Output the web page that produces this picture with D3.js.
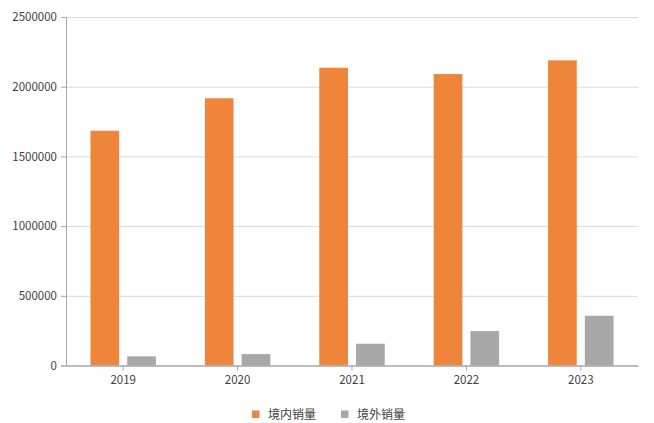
<!DOCTYPE html>
<html>
<head>
<meta charset="utf-8">
<script src="https://cdn.jsdelivr.net/npm/d3@7/dist/d3.min.js"></script>
<style>
  html, body { margin: 0; padding: 0; background: #fff; }
  svg { display: block; }
  text { font-family: "Noto Sans CJK SC", "Noto Sans", sans-serif; }
</style>
</head>
<body>
<svg id="chart" width="654" height="423"></svg>
<script>
const categories = ["2019", "2020", "2021", "2022", "2023"];
const seriesNames = ["境内销量", "境外销量"];
const domesticSales = [1684000, 1917000, 2136000, 2091000, 2189000];
const overseasSales = [66000, 82000, 156000, 247000, 357000];
const yTicks = [0, 500000, 1000000, 1500000, 2000000, 2500000];
const colors = ["#EE853A", "#A8A8A8"];

const svg = d3.select("#chart");
const margin = { left: 66, right: 16, top: 17, bottom: 57.5 };
const W = 654, H = 423;
const plotW = W - margin.left - margin.right;
const plotH = H - margin.top - margin.bottom;

const g = svg.append("g").attr("transform", `translate(${margin.left},${margin.top})`);

const x0 = d3.scaleBand().domain(categories).range([0, plotW]).padding(0);
const groupW = x0.bandwidth() * 0.572;
const x1 = d3.scaleBand().domain(seriesNames)
  .range([(x0.bandwidth() - groupW) / 2, (x0.bandwidth() + groupW) / 2])
  .paddingInner(0.22).paddingOuter(0);
const y = d3.scaleLinear().domain([0, 2500000]).range([plotH, 0]);

// gridlines
g.append("g").selectAll("line").data(yTicks.filter(d => d > 0)).join("line")
  .attr("x1", 0).attr("x2", plotW)
  .attr("y1", d => y(d) + 0.5).attr("y2", d => y(d) + 0.5)
  .attr("stroke", "#d9d9d9").attr("stroke-width", 1);

// bars
const data = categories.map((c, i) => ({ cat: c, vals: [
  { s: seriesNames[0], v: domesticSales[i], c: colors[0] },
  { s: seriesNames[1], v: overseasSales[i], c: colors[1] }
]}));

const groups = g.append("g").selectAll("g").data(data).join("g")
  .attr("transform", d => `translate(${x0(d.cat)},0)`);
groups.selectAll("rect").data(d => d.vals).join("rect")
  .attr("x", d => x1(d.s))
  .attr("width", x1.bandwidth())
  .attr("y", d => y(d.v))
  .attr("height", d => y(0) - y(d.v))
  .attr("fill", d => d.c);

// y axis
const yAxis = g.append("g")
  .call(d3.axisLeft(y).tickValues(yTicks).tickFormat(d => String(d)).tickSize(5).tickPadding(4));
yAxis.select(".domain").attr("stroke", "#a6a6a6");
yAxis.selectAll(".tick line").attr("stroke", "#a6a6a6");
yAxis.selectAll(".tick text").attr("fill", "#404040").style("font-size", "11.5px");

// x axis
const xAxis = g.append("g").attr("transform", `translate(0,${plotH})`)
  .call(d3.axisBottom(x0).tickSize(5).tickPadding(5).tickSizeOuter(0));
xAxis.select(".domain").attr("stroke", "#a6a6a6").attr("stroke-width", 1.5);
xAxis.selectAll(".tick line").attr("stroke", "#a6a6a6");
xAxis.selectAll(".tick text").attr("fill", "#404040").style("font-size", "11.5px");

// legend
const legendItems = [
  { name: seriesNames[0], color: colors[0], x: 252 },
  { name: seriesNames[1], color: colors[1], x: 341 }
];
const lg = svg.append("g");
const li = lg.selectAll("g").data(legendItems).join("g")
  .attr("transform", d => `translate(${d.x},0)`);
li.append("rect").attr("x", 0).attr("y", 410.5).attr("width", 7.5).attr("height", 7.5)
  .attr("fill", d => d.color);
li.append("text").attr("x", 16).attr("y", 414.5).attr("dy", "0.35em")
  .attr("fill", "#404040").style("font-size", "12px").text(d => d.name);
</script>
</body>
</html>
